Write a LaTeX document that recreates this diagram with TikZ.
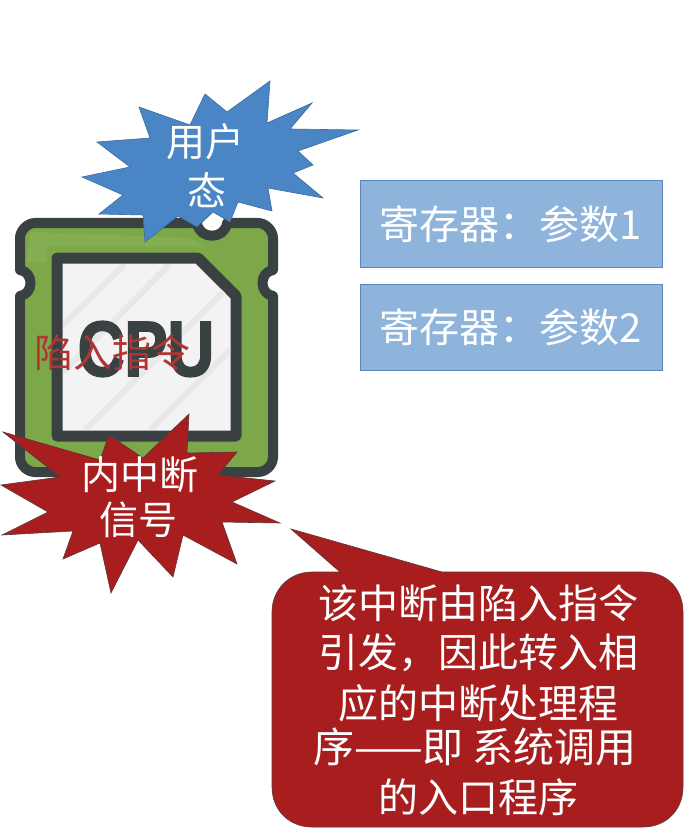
\documentclass[tikz,border=0pt]{standalone}
\usepackage{fontspec}
\setmainfont{Liberation Sans}
\newfontfamily\cjk{Noto Sans CJK SC}
\newfontfamily\cpufont[FakeBold=2.5]{Liberation Sans Bold}
\definecolor{starblue}{HTML}{4A86C5}
\definecolor{boxblue}{HTML}{8FB4DC}
\definecolor{boxedge}{HTML}{5B86B8}
\definecolor{alertred}{HTML}{A81E1E}
\definecolor{chipgreen}{HTML}{7DA84A}
\definecolor{chiplight}{HTML}{84AE52}
\definecolor{chipdark}{HTML}{3A4142}
\definecolor{chipface}{HTML}{F3F3F3}
\definecolor{stripegray}{HTML}{E8E8E8}
\newcommand{\cjkfs}[1]{\cjk\fontsize{#1}{#1}\selectfont}
\tikzset{
  x=1pt,y=-1pt,
  starblueshape/.style={fill=starblue,draw=starblue!80!black,line width=.6pt,line join=miter},
  starredshape/.style={fill=alertred,draw=chipdark!70!alertred,line width=.6pt,line join=miter},
  regbox/.style={draw=boxedge,fill=boxblue,line width=1pt,minimum width=302pt,minimum height=86pt,inner sep=0pt,text=white,font=\cjkfs{40}},
  whitetext/.style={text=white,inner sep=0pt,align=center},
  stripe/.style={stripegray,line width=6pt},
}
\begin{document}
\begin{tikzpicture}
\useasboundingbox (0,0) rectangle (698,834);
\fill[white] (0,0) rectangle (698,834);
% chip body
\path[fill=chipgreen,draw=chipdark,line width=10pt,line join=round]
  (35,223) -- (197,223) .. controls (199,240) and (225,240) .. (227,223) -- (258,223)
  .. controls (266,223) and (273,231) .. (273,238) -- (273,270)
  .. controls (259,272) and (259,294) .. (273,296) -- (273,457)
  .. controls (273,465) and (266,472) .. (258,472) -- (35,472)
  .. controls (27,472) and (20,465) .. (20,457) -- (20,296)
  .. controls (34,294) and (34,272) .. (20,270) -- (20,238)
  .. controls (20,231) and (27,223) .. (35,223) -- cycle;
\fill[chiplight] (30,232) -- (190,238) -- (205,247) -- (47,247) -- (47,262) -- (27,262) -- cycle;
% chip face
\path[fill=chipface,draw=chipdark,line width=11pt,line join=round]
  (57,258) -- (198,258) -- (236,296) -- (236,436) -- (57,436) -- cycle;
\begin{scope}
  \clip (63,264) -- (196,264) -- (230,298) -- (230,430) -- (63,430) -- cycle;
  \draw[stripe] (63,325) -- (125,264);
  \draw[stripe] (63,372) -- (170,264);
  \draw[stripe] (85,430) -- (230,285);
  \draw[stripe] (150,430) -- (230,350);
\end{scope}
\node[inner sep=0pt,text=chipdark,xscale=.83,font=\cpufont\fontsize{78}{78}\selectfont] (cpu) at (146,349) {CPU};
\node[inner sep=0pt,text=alertred!90!white,font=\cjkfs{39}] (trap) at (112,353) {陷入指令};
% blue burst
\path[starblueshape] (270,81) -- (267,123) -- (312,103) -- (290,129) -- (358,130) -- (298,151)
  -- (313,165) -- (293,173) -- (323,198) -- (268,188) -- (272,211) -- (238,202) -- (230,222)
  -- (213,212) -- (197,227) -- (178,216) -- (145,242) -- (143,215) -- (99,214) -- (123,195)
  -- (82,177) -- (130,167) -- (97,142) -- (150,138) -- (139,107) -- (190,125) -- (205,94)
  -- (227,112) -- cycle;
\node[whitetext,font=\cjkfs{39}] (user1) at (205,142) {用户};
\node[whitetext,font=\cjkfs{39}] (user2) at (207,190) {态};
% red burst
\path[starredshape] (189,414) -- (187,453) -- (237,452) -- (218,475) -- (275,481) -- (232,502)
  -- (280,523) -- (222,522) -- (237,564) -- (183,535) -- (173,577) -- (138,540) -- (111,593)
  -- (100,543) -- (63,559) -- (73,531) -- (2,535) -- (48,512) -- (1,485) -- (60,477) -- (3,432)
  -- (100,460) -- (109,435) -- (143,458) -- cycle;
\node[whitetext,font=\cjkfs{39}] (int1) at (140,475) {内中断};
\node[whitetext,font=\cjkfs{39}] (int2) at (138,520) {信号};
% registers
\node[regbox] (reg1) at (511,224) {寄存器：参数1};
\node[regbox] (reg2) at (511,327) {寄存器：参数2};
% callout
\path[fill=alertred,draw=chipdark!70!alertred,line width=.6pt]
  (340,572) -- (291,529) -- (442,572) -- (643,572)
  .. controls (668,572) and (683,590) .. (683,612) -- (683,787)
  .. controls (683,810) and (666,827) .. (643,827) -- (312,827)
  .. controls (289,827) and (272,810) .. (272,787) -- (272,612)
  .. controls (272,590) and (289,572) .. (312,572) -- cycle;
\node[whitetext,font=\cjkfs{40}] (l1) at (478,603) {该中断由陷入指令};
\node[whitetext,font=\cjkfs{40}] (l2) at (478,653) {引发，因此转入相};
\node[whitetext,font=\cjkfs{40}] (l3) at (478,703) {应的中断处理程};
\node[whitetext,font=\cjkfs{41}] (l4) at (475,747) {序——即 系统调用};
\node[whitetext,font=\cjkfs{40}] (l5) at (478,797) {的入口程序};
\end{tikzpicture}
\end{document}
